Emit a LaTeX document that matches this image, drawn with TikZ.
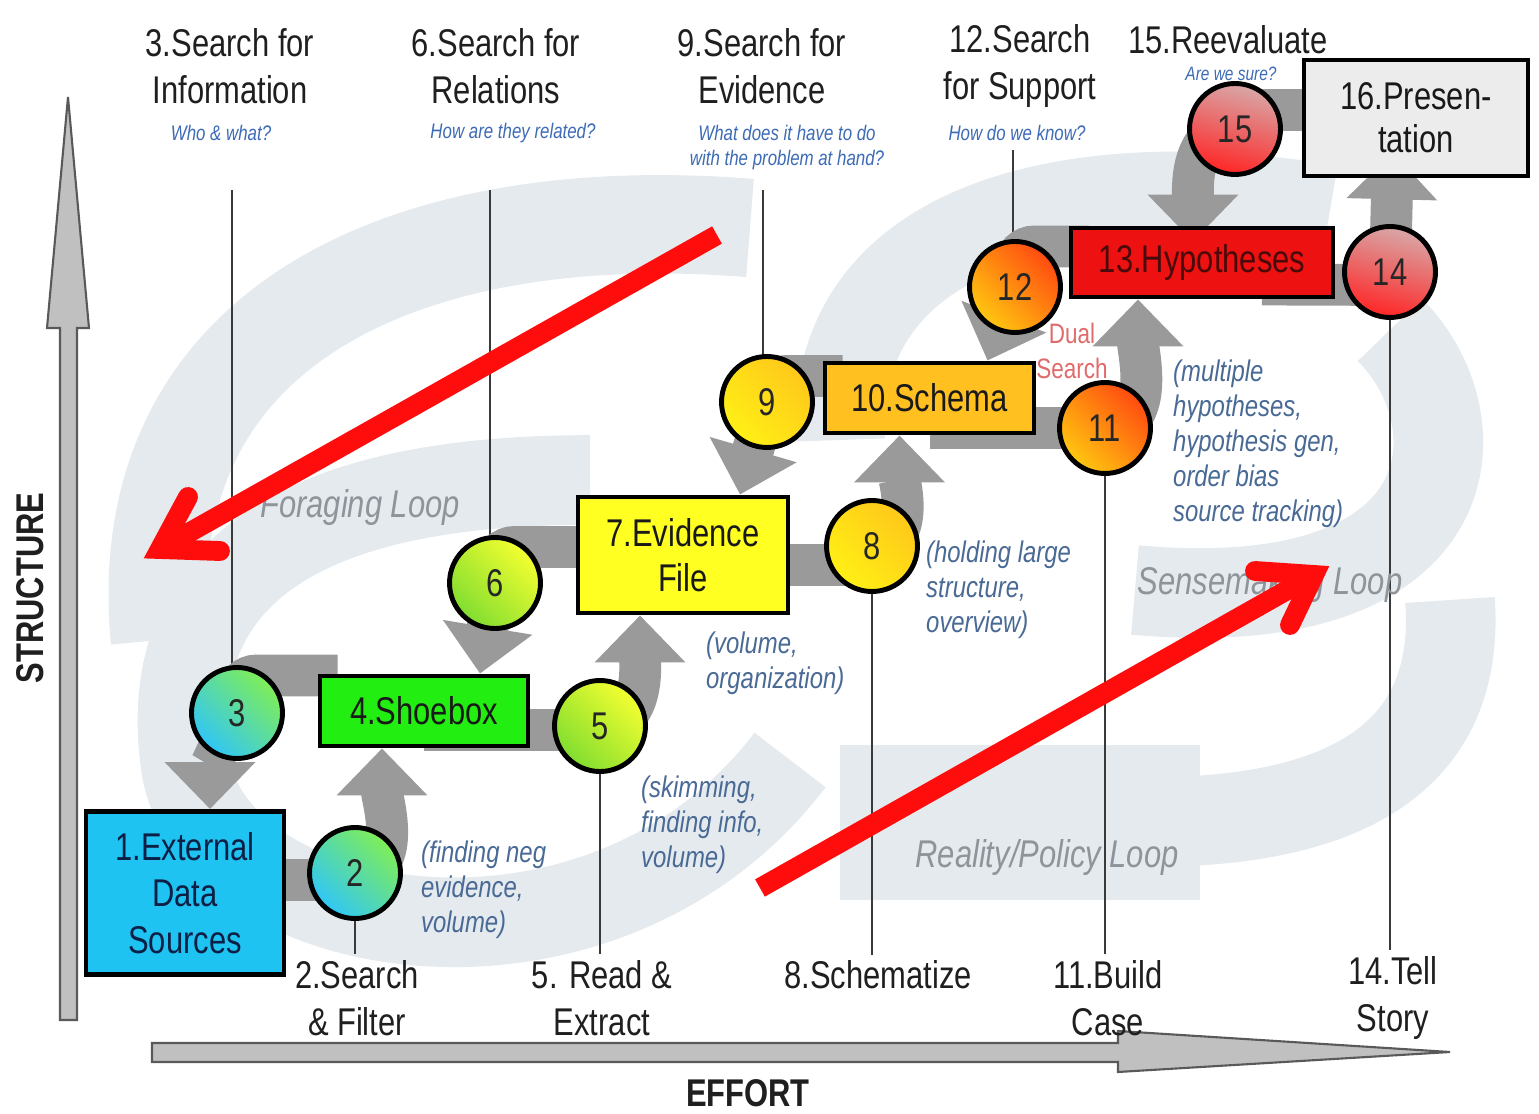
\documentclass[tikz,border=0pt]{standalone}
\usepackage{fontspec}
\setmainfont{Liberation Sans}[FakeStretch=0.8]
\usetikzlibrary{arrows.meta,calc}
\pgfdeclarelayer{swirl}
\pgfdeclarelayer{lines}
\pgfdeclarelayer{bands}
\pgfsetlayers{swirl,lines,bands,main}
\definecolor{swirlc}{HTML}{E4EAEE}
\definecolor{bandc}{HTML}{9A9A9A}
\definecolor{linec}{HTML}{3A3A3A}
\definecolor{annc}{HTML}{4A6A96}
\definecolor{qc}{HTML}{3D6BB5}
\definecolor{loopc}{HTML}{8E9499}
\definecolor{dualc}{HTML}{E06B6B}
\definecolor{redc}{HTML}{FF0D0D}
\definecolor{axisc}{HTML}{C0C0C0}
\definecolor{boxone}{HTML}{1EC3F2}
\definecolor{boxfour}{HTML}{22EE11}
\definecolor{boxseven}{HTML}{FFFF22}
\definecolor{boxten}{HTML}{FFC020}
\definecolor{boxthirteen}{HTML}{EE1111}
\definecolor{boxsixteen}{HTML}{ECECEC}
\definecolor{navytext}{HTML}{0D1F45}
\definecolor{maroontext}{HTML}{4A0A0A}
\definecolor{cgA}{HTML}{80EE55}
\definecolor{cgB}{HTML}{30C6F8}
\definecolor{cyA}{HTML}{F4FF30}
\definecolor{cyB}{HTML}{80DD30}
\definecolor{coA}{HTML}{FFC81A}
\definecolor{coB}{HTML}{FFF015}
\definecolor{crA}{HTML}{FF4A10}
\definecolor{crB}{HTML}{FFC810}
\definecolor{cpA}{HTML}{D8A8A8}
\definecolor{cpB}{HTML}{FF2525}
\tikzset{
  box/.style={draw=black, line width=2.8pt, rectangle, inner sep=0pt, align=center,
    font=\fontsize{22}{26}\selectfont, text=black!90},
  num/.style={circle, draw=black, line width=2.8pt, minimum size=1.82cm, inner sep=0pt,
    font=\fontsize{22}{26}\selectfont, text=black!85},
  numblue/.style={num, top color=cgA, bottom color=cgB, shading angle=-45},
  numgreen/.style={num, top color=cyA, bottom color=cyB, shading angle=-45},
  numyellow/.style={num, top color=coA, bottom color=coB, shading angle=-45},
  numorange/.style={num, top color=crA, bottom color=crB, shading angle=-45},
  numred/.style={num, top color=cpA, bottom color=cpB, shading angle=-15},
  band/.style={draw=bandc, line width=23.8pt},
  bandarrow/.style={band, -{Triangle[width=0pt 2.1, length=0pt 1.12]}},
  thinline/.style={draw=linec, line width=1.1pt},
  toplabel/.style={align=center, font=\fontsize{22}{26.6}\selectfont, text=black!88},
  question/.style={align=center, font=\fontsize{12}{14.2}\selectfont\itshape, text=qc},
  annot/.style={align=left, anchor=west, font=\fontsize{17}{20}\selectfont\itshape, text=annc},
  looplabel/.style={font=\fontsize{22}{26}\selectfont\itshape, text=loopc},
  swirlband/.style={draw=swirlc, line width=51pt},
  redarrow/.style={draw=redc, line width=11.3pt},
  axislabel/.style={font=\fontsize{22}{26}\selectfont\bfseries, text=black!88},
}
\begin{document}
\begin{tikzpicture}[x=0.02cm, y=-0.02cm]
\useasboundingbox (0,0) rectangle (1539,1114);

% ---------- background swirls ----------
\begin{pgfonlayer}{swirl}
\fill[white] (0,0) rectangle (1539,1114);
\draw[swirlband, line width=56pt] (160,640) .. controls (130,330) and (400,200) .. (750,228);
\draw[swirlband] (590,480) .. controls (260,480) and (165,600) .. (185,760) .. controls (205,940) and (600,1010) .. (790,760);
\draw[swirlband] (840,440) .. controls (830,210) and (1100,170) .. (1330,210);
\draw[swirlband] (1390,330) .. controls (1480,420) and (1470,620) .. (1135,590);
\fill[swirlc] (840,745) rectangle (1200,900);
\draw[swirlband] (1150,822) .. controls (1370,822) and (1460,740) .. (1450,600);
\node[align=center, font=\fontsize{16}{20.4}\selectfont, text=dualc] (dual) at (1072,351) {Dual\\Search};
\end{pgfonlayer}

% ---------- axes ----------
\filldraw[fill=axisc, draw=black!65, line width=1.2pt]
  (60,1020) -- (60,328) -- (47,328) -- (68,97) -- (89,328) -- (77,328) -- (77,1020) -- cycle;
\filldraw[fill=axisc, draw=black!65, line width=1.2pt]
  (152,1043) -- (1118,1043) -- (1118,1031) -- (1450,1052) -- (1118,1072) -- (1118,1062) -- (152,1062) -- cycle;
\node[axislabel, rotate=90] (ystr) at (30,588) {STRUCTURE};
\node[axislabel] (xeff) at (748,1093) {EFFORT};

% ---------- boxes ----------
\node[box, fill=boxone, text=navytext, minimum width=3.96cm, minimum height=3.26cm,
  font=\fontsize{22}{26.4}\selectfont] (b1) at (185,893) {1.External\\Data\\Sources};
\node[box, fill=boxfour, minimum width=4.16cm, minimum height=1.40cm] (b4) at (424,711) {4.Shoebox};
\node[box, fill=boxseven, minimum width=4.2cm, minimum height=2.32cm,
  font=\fontsize{22}{25.5}\selectfont] (b7) at (683,555) {7.Evidence\\File};
\node[box, fill=boxten, minimum width=4.18cm, minimum height=1.40cm] (b10) at (929.5,398) {10.Schema};
\node[box, fill=boxthirteen, text=maroontext, minimum width=5.24cm, minimum height=1.38cm] (b13) at (1202,262.5) {13.Hypotheses};
\node[box, fill=boxsixteen, minimum width=4.48cm, minimum height=2.32cm,
  font=\fontsize{22}{24.4}\selectfont] (b16) at (1416,118) {16.Presen-\\tation};

% ---------- circles ----------
\node[numblue] (c2) at (355,873) {2};
\node[numblue] (c3) at (237,713) {3};
\node[numgreen] (c5) at (600,726) {5};
\node[numgreen] (c6) at (495,583) {6};
\node[numyellow] (c8) at (872,546) {8};
\node[numyellow] (c9) at (767,402) {9};
\node[numorange] (c11) at (1105,428) {11};
\node[numorange] (c12) at (1015,287) {12};
\node[numred] (c14) at (1390,272) {14};
\node[numred] (c15) at (1235,129) {15};

% ---------- labels ----------
\node[toplabel] (t3) at (230,66) {3.Search for\\Information};
\node[toplabel] (t6) at (496,66) {6.Search for\\Relations};
\node[toplabel] (t9) at (762,66) {9.Search for\\Evidence};
\node[toplabel] (t12) at (1020,66) {12.Search\\for Support};
\node[toplabel] (t15) at (1228,40) {15.Reevaluate};
\node[question] (q3) at (221,133) {Who \& what?};
\node[question] (q6) at (513,133) {How are they related?};
\node[question] (q9) at (787,148) {What does it have to do\\with the problem at hand?};
\node[question] (q12) at (1017,133) {How do we know?};
\node[question, font=\fontsize{11}{13}\selectfont\itshape] (q15) at (1231,74) {Are we sure?};

\node[toplabel] (l2) at (357,998) {2.Search\\\& Filter};
\node[toplabel] (l5) at (602,998) {5. Read \&\\Extract};
\node[toplabel] (l8) at (878,975) {8.Schematize};
\node[toplabel] (l11) at (1108,998) {11.Build\\Case};
\node[toplabel] (l14) at (1393,998) {14.Tell\\Story};

\node[annot] (a2) at (415,890) {(finding neg\\evidence,\\volume)};
\node[annot] (a5) at (635,825) {(skimming,\\finding info,\\volume)};
\node[annot] (a7) at (700,663) {(volume,\\organization)};
\node[annot] (a8) at (920,590) {(holding large\\structure,\\overview)};
\node[annot] (a11) at (1167,444) {(multiple\\hypotheses,\\hypothesis gen,\\order bias\\source tracking)};

\node[looplabel] (lf) at (360,508) {Foraging Loop};
\node[looplabel] (ls) at (1270,585) {Sensemaking Loop};
\node[looplabel] (lr) at (1047,858) {Reality/Policy Loop};

% ---------- thin lines ----------
\begin{pgfonlayer}{lines}
\coordinate (top3) at (232,190);
\coordinate (top6) at (490,190);
\coordinate (top9) at (763,190);
\coordinate (top12) at (1013,150);
\draw[thinline] (top3) -- (top3 |- c3.center);
\draw[thinline] (top6) -- (top6 |- c6.center);
\draw[thinline] (top9) -- (top9 |- c9.center);
\draw[thinline] (top12) -- (top12 |- c12.center);
\draw[thinline] (c2.center) -- (c2.center |- l2.north);
\draw[thinline] (c5.center) -- (c5.center |- l5.north);
\draw[thinline] (c8.center) -- (c8.center |- l8.north);
\draw[thinline] (c11.center) -- (c11.center |- l11.north);
\draw[thinline] (c14.center) -- (c14.center |- l14.north);
\end{pgfonlayer}

% ---------- grey flow bands ----------
\begin{pgfonlayer}{bands}
\draw[band] ($(b1.center |- c2.center)+(0,7)$) -- ($(c2.center)+(0,7)$);
\draw[band] ($(b4.center |- c5.center)+(0,4)$) -- ($(c5.center)+(0,4)$);
\draw[band] ($(b7.center)+(0,10)$) -- ($(c8.center |- b7.center)+(0,10)$);
\draw[band] (b10.center |- c11.center) -- (c11.center);
\draw[band] ($(b13.center)+(60,22)$) -- ($(c14.center)+(0,13)$);
\draw[band, rounded corners=11pt] (c3.center) |- ($(b4.north west)+(20,2)$);
\draw[band, rounded corners=11pt] (c6.center) |- ($(b7.west)+(20,-8)$);
\draw[band, rounded corners=11pt] (c9.center) |- ($(b10.west)+(20,-22)$);
\draw[band, rounded corners=11pt] (c12.center) |- ($(b13.west)+(20,-16)$);
\draw[band, rounded corners=11pt] (c15.center) |- ($(b16.west)+(20,-8)$);
\draw[bandarrow] (c2.center) to[out=0,in=-90] ($(b4.south)+(-42,0)$);
\draw[bandarrow] (c3.center) to[out=-120,in=90] ($(b1.north)+(25,0)$);
\draw[bandarrow] (c5.center) to[out=0,in=-90] ($(b7.south)+(-43,0)$);
\draw[bandarrow] (c6.center) -- ($(b4.north)+(56,0)$);
\draw[bandarrow] (c8.center) to[out=0,in=-90] ($(b10.south)+(-30,0)$);
\draw[bandarrow] (c9.center) -- ($(b7.north)+(57,0)$);
\draw[bandarrow] (c11.center) to[out=0,in=-90] ($(b13.south)+(-64,0)$);
\draw[bandarrow] (c12.center) -- ($(b10.north)+(58,0)$);
\draw[bandarrow] (c14.center) -- ($(b16.south)+(-23,-26)$);
\draw[bandarrow] (c15.center) to[out=180,in=90] ($(b13.north)+(-9,16)$);
\end{pgfonlayer}

% ---------- red arrows ----------
\coordinate (r1s) at (717,235);
\coordinate (r1v) at (160,549);
\coordinate (r1a) at (220,551);
\coordinate (r1b) at (188,497);
\draw[redarrow] (r1s) -- (r1v);
\draw[redarrow, line cap=round, line join=miter] (r1a) -- (r1v) -- (r1b);
\coordinate (r2s) at (760,888);
\coordinate (r2v) at (1314,575);
\coordinate (r2a) at (1255,571);
\coordinate (r2b) at (1290,625);
\draw[redarrow] (r2s) -- (r2v);
\draw[redarrow, line cap=round, line join=miter] (r2a) -- (r2v) -- (r2b);
\end{tikzpicture}
\end{document}
